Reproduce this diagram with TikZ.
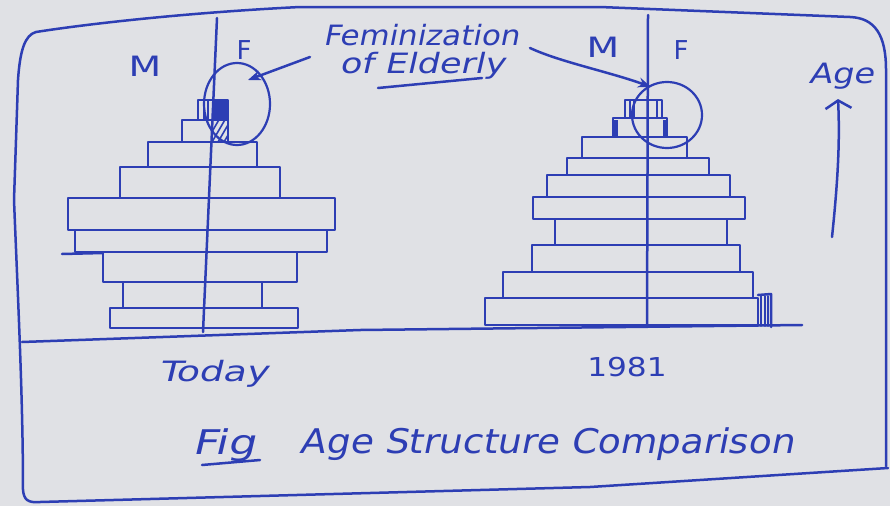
\documentclass[tikz,border=0pt]{standalone}
\usepackage{fontspec}
\usepackage{graphicx}
\setmainfont{DejaVu Sans}[AutoFakeSlant=0.18]
\usetikzlibrary{arrows.meta,shapes.geometric}
\definecolor{ink}{RGB}{45,62,180}
\definecolor{paper}{RGB}{224,225,229}
\newcommand{\handsize}[1]{\fontsize{#1}{#1}\selectfont\itshape}
\newcommand{\uprightsize}[1]{\fontsize{#1}{#1}\selectfont\upshape}
\begin{document}
\begin{tikzpicture}[x=1pt,y=-1pt,
  inkln/.style={draw=ink,line width=2.5pt,line cap=round,line join=round},
  thin ink/.style={draw=ink,line width=1.6pt,line cap=round},
  hand/.style={text=ink,inner sep=0pt},
  tipped/.style={inkln,-{Stealth[length=13pt,width=10pt]}},
  ring/.style={draw=ink,line width=2.2pt,ellipse,inner sep=0pt}
]
\fill[paper] (0,0) rectangle (890,506);
\useasboundingbox (0,0) rectangle (890,506);

% frame
\draw[inkln] (886,466) -- (886,70) .. controls (886,35) and (875,18) .. (850,17)
  -- (600,7) -- (300,7) .. controls (200,12) and (100,22) .. (36,32)
  .. controls (25,35) and (20,50) .. (18,80) -- (14,200)
  .. controls (18,300) and (23,400) .. (23,490)
  .. controls (24,500) and (28,503) .. (40,502) -- (590,487) -- (888,468);

% baseline
\draw[inkln] (22,342) -- (360,330) -- (802,325);

% ---------- left pyramid (Today) ----------
\foreach \xa/\ya/\xb/\yb in {110/308/298/328, 123/282/262/308, 103/252/297/282,
   75/230/327/252, 68/198/335/230, 120/167/280/198, 148/142/257/167,
   182/120/228/142, 198/100/228/120}
  \draw[inkln] (\xa,\ya) rectangle (\xb,\yb);
\draw[inkln] (62,254) -- (103,253);
\fill[ink] (212,100) rectangle (228,120);
\draw[thin ink] (204,100) -- (204,120) (208,100) -- (208,120);
\begin{scope}
  \clip (212,120) rectangle (228,140);
  \foreach \k in {0,6,...,36}
    \draw[thin ink] (206+\k,142) -- (220+\k,118);
\end{scope}
\draw[inkln] (217,18) -- (203,332);

\node[ring,minimum width=66pt,minimum height=82pt] (lcirc) at (237,104) {};

% ---------- right pyramid (1981) ----------
\foreach \xa/\ya/\xb/\yb in {485/298/758/325, 503/272/753/298, 532/245/740/272,
   555/219/727/245, 533/197/745/219, 547/175/730/197, 567/158/709/175,
   582/137/687/158, 613/118/667/137, 625/100/662/118}
  \draw[inkln] (\xa,\ya) rectangle (\xb,\yb);
\draw[draw=ink,line width=3.5pt] (616,120) -- (616,136) (665,120) -- (665,136);
\draw[thin ink] (630,101) -- (630,117) (634,101) -- (634,117) (657,101) -- (657,117);
\draw[inkln] (758,295) -- (771,294) -- (771,327);
\draw[thin ink] (761,296) -- (761,326) (765,296) -- (765,326) (768,296) -- (768,326);
\draw[inkln] (648,15) -- (647,325);

\node[ring,minimum width=70pt,minimum height=66pt] (rcirc) at (667,115) {};

% ---------- labels ----------
\node[hand,font=\uprightsize{28}] (mL) at (145,66) {\scalebox{1.35}[1]{M}};
\node[hand,font=\uprightsize{26}] (fL) at (244,50) {F};
\node[hand,font=\uprightsize{28}] (mR) at (603,47) {\scalebox{1.35}[1]{M}};
\node[hand,font=\uprightsize{26}] (fR) at (681,50) {F};

\node[hand,font=\handsize{28}] (fem1) at (421,35) {\scalebox{1.1}[1]{Feminization}};
\node[hand,font=\handsize{28}] (fem2) at (422,66) {\scalebox{1.25}[1]{of Elderly}};
\draw[inkln] (378,88) -- (482,78);

\coordinate (a1s) at (310,57);
\coordinate (a1e) at (248,80);
\draw[tipped] (a1s) -- (a1e);
\coordinate (a2s) at (530,48);
\coordinate (a2e) at (651,87);
\draw[tipped] (a2s) .. controls (560,62) and (610,72) .. (a2e);

\node[hand,font=\handsize{28}] (age) at (841,76) {\scalebox{1.2}[1]{Age}};
\coordinate (ageb) at (832,237);
\coordinate (aget) at (838,99);
\draw[inkln,-{Straight Barb[length=8pt,width=26pt]}] (ageb) .. controls (838,180) and (840,140) .. (aget);

\node[hand,font=\handsize{28}] (today) at (213,374) {\scalebox{1.35}[1]{Today}};
\node[hand,font=\uprightsize{26}] (y1981) at (627,367) {\scalebox{1.2}[1]{1981}};

\node[hand,font=\handsize{34}] (fig) at (224,445) {\scalebox{1.3}[1]{Fig}};
\draw[inkln] (202,465) -- (260,460);
\node[hand,font=\handsize{34}] (title) at (547,444) {\scalebox{1.1}[1]{Age Structure Comparison}};
\end{tikzpicture}
\end{document}
